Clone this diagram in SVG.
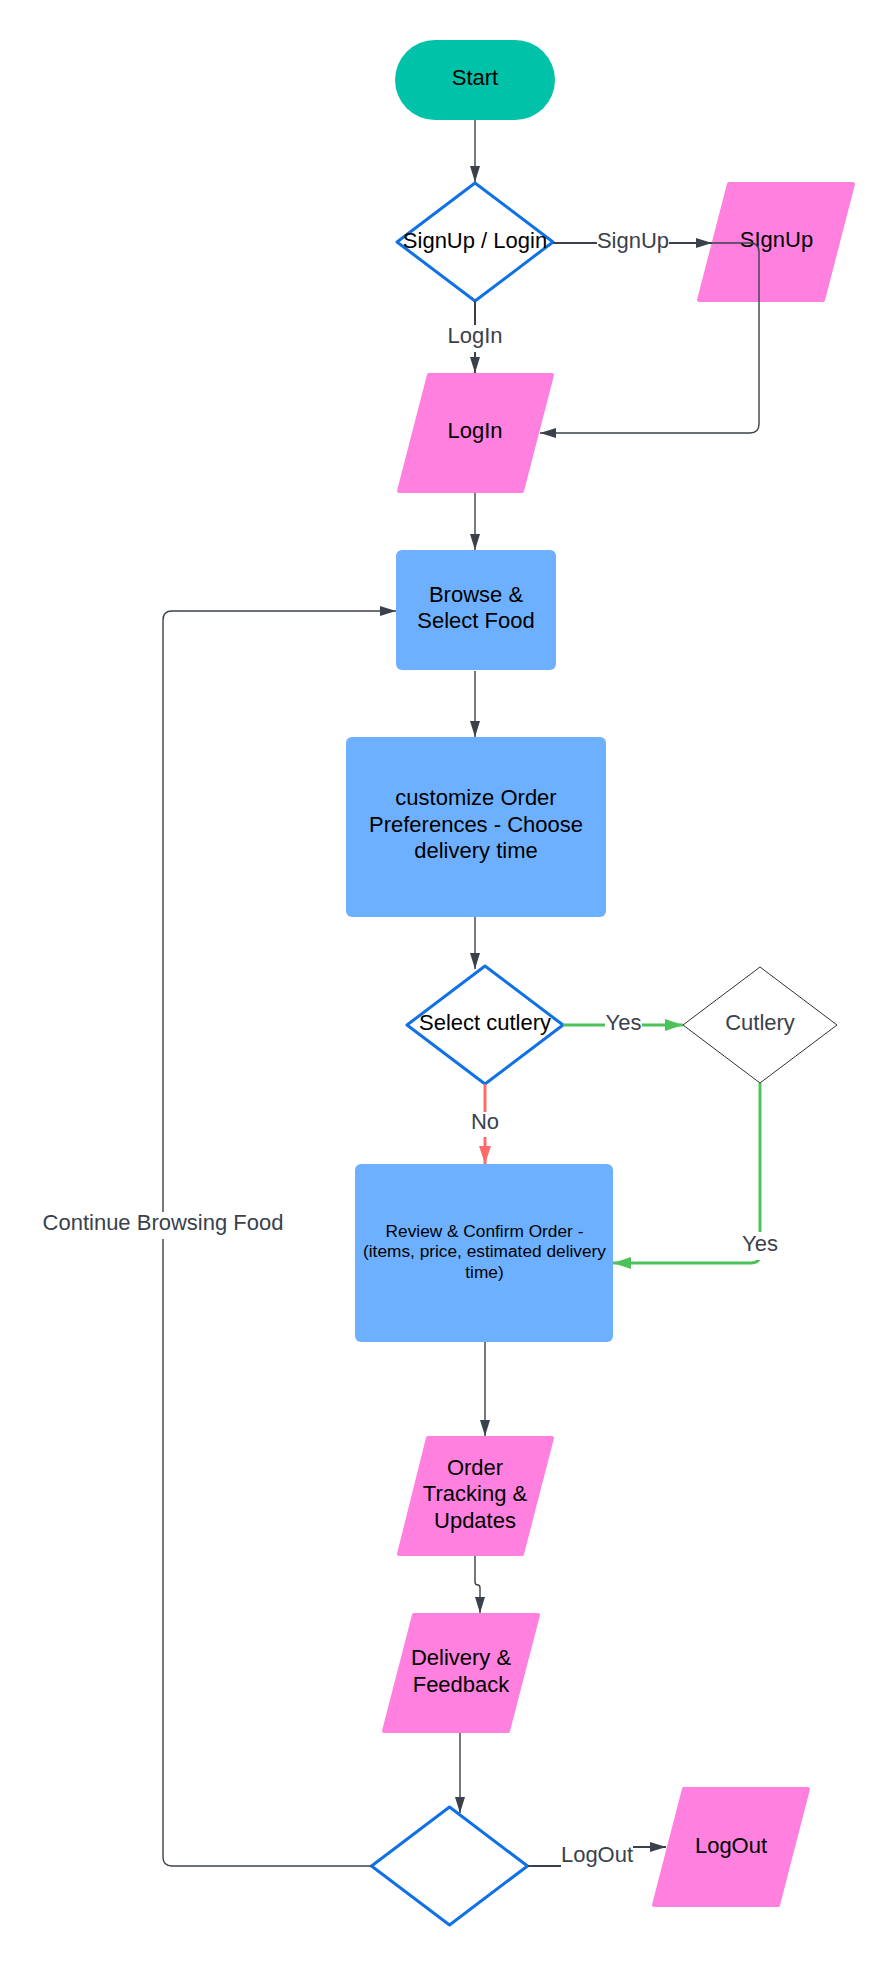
<svg xmlns="http://www.w3.org/2000/svg" width="896" height="1965" viewBox="0 0 896 1965">
<style>
text{font-family:"Liberation Sans",Arial,sans-serif;text-anchor:middle}
.t{font-size:22px;fill:#000}
.ts{font-size:17.3px;fill:#000}
.lb{font-size:22px;fill:#3a414a}
.pink{fill:#FF80DF;stroke:#FF80DF;stroke-width:4;stroke-linejoin:round}
.blue{fill:#6CB0FF}
.dia{fill:#fff;stroke:#1071E5;stroke-width:3;stroke-linejoin:round}
.c{fill:none;stroke:#3a414a;stroke-width:1.4}
.c2{fill:none;stroke:#3a414a;stroke-width:2}
.g{fill:none;stroke:#4CC35A;stroke-width:3}
.r{fill:none;stroke:#FF6B6B;stroke-width:3}
.bg{fill:#fff}
</style>
<defs>
<marker id="ag" markerUnits="userSpaceOnUse" markerWidth="16" markerHeight="10" refX="16" refY="5" orient="auto"><path d="M0,0 L16,5 L0,10 z" fill="#3a414a"/></marker>
<marker id="agr" markerUnits="userSpaceOnUse" markerWidth="18" markerHeight="12" refX="18" refY="6" orient="auto"><path d="M0,0 L18,6 L0,12 z" fill="#4CC35A"/></marker>
<marker id="ard" markerUnits="userSpaceOnUse" markerWidth="18" markerHeight="12" refX="18" refY="6" orient="auto"><path d="M0,0 L18,6 L0,12 z" fill="#FF6B6B"/></marker>
</defs>
<rect width="896" height="1965" fill="#fff"/>
<g id="nodes">
<g id="start"><rect x="395" y="40" width="160" height="80" rx="40" fill="#00C2A8"/><text class="t" x="475" y="85">Start</text></g>
<g id="signup-login"><polygon class="dia" points="475,183 553,242 475,301 397,242"/><text class="t" x="475" y="247.5">SignUp / Login</text></g>
<g id="signup"><polygon class="pink" points="729,184 853,184 823,300 699,300"/><text class="t" x="776.5" y="247">SIgnUp</text></g>
<g id="login"><polygon class="pink" points="429,375 552,375 522,491 399,491"/><text class="t" x="475" y="437.5">LogIn</text></g>
<g id="browse"><rect class="blue" x="396" y="550" width="160" height="120" rx="6"/><text class="t" x="476" y="601.8">Browse &amp;</text><text class="t" x="476" y="628.4">Select Food</text></g>
<g id="customize"><rect class="blue" x="346" y="737" width="260" height="180" rx="6"/><text class="t" x="476" y="805">customize Order</text><text class="t" x="476" y="831.7">Preferences - Choose</text><text class="t" x="476" y="858.4">delivery time</text></g>
<g id="select-cutlery"><polygon class="dia" points="485,966 563,1025 485,1084 407,1025"/><text class="t" x="485" y="1030">Select cutlery</text></g>
<g id="cutlery"><polygon points="760,967 837,1025 760,1083 683,1025" fill="#fff" stroke="#333" stroke-width="1" stroke-linejoin="round"/><text class="lb" x="760" y="1030">Cutlery</text></g>
<g id="review"><rect class="blue" x="355" y="1164" width="258" height="178" rx="6"/><text class="ts" x="484.5" y="1236.7">Review &amp; Confirm Order -</text><text class="ts" x="484.5" y="1257.3">(items, price, estimated delivery</text><text class="ts" x="484.5" y="1278">time)</text></g>
<g id="tracking"><polygon class="pink" points="428,1438 552,1438 522,1554 399,1554"/><text class="t" x="475" y="1474.5">Order</text><text class="t" x="475" y="1501">Tracking &amp;</text><text class="t" x="475" y="1527.5">Updates</text></g>
<g id="delivery"><polygon class="pink" points="414,1615 538,1615 508,1731 384,1731"/><text class="t" x="461" y="1665.3">Delivery &amp;</text><text class="t" x="461" y="1691.5">Feedback</text></g>
<g id="final-decision"><polygon class="dia" points="449.5,1807 527.5,1866 449.5,1925 371.5,1866"/></g>
<g id="logout"><polygon class="pink" points="684,1789 808,1789 778,1905 654,1905"/><text class="t" x="731" y="1852.6">LogOut</text></g>
</g>
<g id="connectors">
<path class="c" d="M475,120 V182" marker-end="url(#ag)"/>
<path class="c2" d="M553,243 H712" marker-end="url(#ag)"/>
<rect class="bg" x="597" y="228" width="72" height="28"/>
<text class="lb" x="633" y="247.5">SignUp</text>
<path class="c" d="M712,243 H750 Q759,243 759,252 V424 Q759,433 750,433 H540" marker-end="url(#ag)"/>
<path class="c2" d="M475,301 V373" marker-end="url(#ag)"/>
<rect class="bg" x="440" y="325" width="70" height="27"/>
<text class="lb" x="475" y="342.5">LogIn</text>
<path class="c" d="M475,493 V550" marker-end="url(#ag)"/>
<path class="c" d="M475,671 V737" marker-end="url(#ag)"/>
<path class="c" d="M475,917 V969" marker-end="url(#ag)"/>
<path class="g" d="M563,1025 H683" marker-end="url(#agr)"/>
<rect class="bg" x="605" y="1010" width="37" height="28"/>
<text class="lb" x="623.5" y="1030">Yes</text>
<path class="r" d="M485,1084 V1164" marker-end="url(#ard)"/>
<rect class="bg" x="470" y="1112" width="30" height="25"/>
<text class="lb" x="485" y="1128.5">No</text>
<path class="g" d="M760,1083 V1254 Q760,1263 751,1263 H613" marker-end="url(#agr)"/>
<rect class="bg" x="740" y="1232" width="40" height="28"/>
<text class="lb" x="760" y="1251">Yes</text>
<path class="c" d="M485,1342 V1436" marker-end="url(#ag)"/>
<path class="c" d="M475,1556 V1582 Q475,1585 478,1585 Q480,1585 480,1588 V1613" marker-end="url(#ag)"/>
<path class="c" d="M460,1733 V1813" marker-end="url(#ag)"/>
<path class="c" d="M371,1866 H172 Q163,1866 163,1857 V620 Q163,611 172,611 H396" marker-end="url(#ag)"/>
<rect class="bg" x="41" y="1212" width="244" height="27"/>
<text class="lb" x="163" y="1230">Continue Browsing Food</text>
<path class="c2" d="M528,1866 H595 V1847 H666" marker-end="url(#ag)"/>
<rect class="bg" x="561" y="1838" width="72" height="32"/>
<text class="lb" x="597" y="1861.6">LogOut</text>
</g>
</svg>
